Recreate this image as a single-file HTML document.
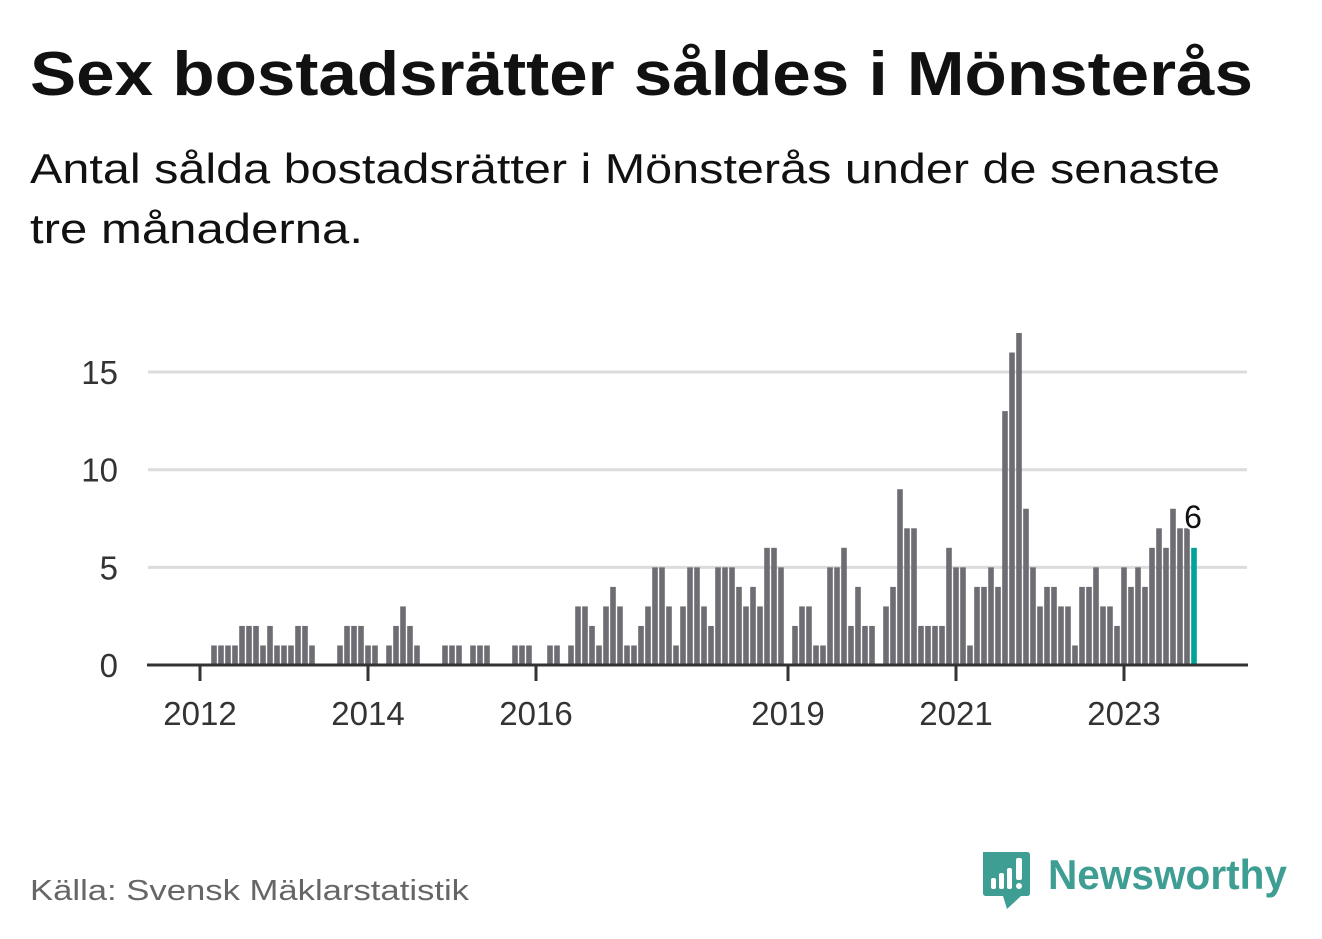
<!DOCTYPE html>
<html><head><meta charset="utf-8"><style>
html,body{margin:0;padding:0;background:#fff;}
svg{display:block;font-family:"Liberation Sans","DejaVu Sans",sans-serif;}
</style></head><body>
<svg id="chart" width="1322" height="939" viewBox="0 0 1322 939" xmlns="http://www.w3.org/2000/svg">
<text x="30" y="95" font-size="62" font-weight="bold" fill="#111" textLength="1223" lengthAdjust="spacingAndGlyphs">Sex bostadsrätter såldes i Mönsterås</text>
<text x="30" y="183" font-size="42" fill="#111" textLength="1190" lengthAdjust="spacingAndGlyphs">Antal sålda bostadsrätter i Mönsterås under de senaste</text>
<text x="30" y="243" font-size="42" fill="#111" textLength="333" lengthAdjust="spacingAndGlyphs">tre månaderna.</text>
<g id="grid"></g>
<g id="bars"></g>
<g id="axes"></g>
<text x="30" y="900" font-size="29" fill="#666" textLength="439" lengthAdjust="spacingAndGlyphs">Källa: Svensk Mäklarstatistik</text>
<g>
<path d="M983 852 H1027 Q1030 852 1030 855 V893 Q1030 896 1027 896 H1021 L1007 909 L1003 896 H986 Q983 896 983 893 Z" fill="#3f9e94"/>
<rect x="991" y="878" width="5" height="11" rx="2" fill="#fff"/>
<rect x="999" y="873" width="5" height="16" rx="2" fill="#fff"/>
<rect x="1007" y="868" width="5" height="21" rx="2" fill="#fff"/>
<rect x="1016" y="858" width="6" height="22" rx="2" fill="#fff"/>
<circle cx="1019" cy="886" r="3" fill="#fff"/>
<text x="1048" y="889" font-size="42" font-weight="bold" fill="#3f9e94" textLength="239" lengthAdjust="spacingAndGlyphs">Newsworthy</text>
</g>
</svg>
<script>
// monthly values starting Jan 2012 (index 0)
const values = [0,0,1,1,1,1,2,2,2,1,2,1,1,1,2,2,1,0,0,0,
1,2,2,2,1,1,0,1,2,3,2,1,0,0,0,1,1,1,0,1,
1,1,0,0,0,1,1,1,0,0,1,1,0,1,3,3,2,1,3,4,
3,1,1,2,3,5,5,3,1,3,5,5,3,2,5,5,5,4,3,4,
3,6,6,5,0,2,3,3,1,1,5,5,6,2,4,2,2,0,3,4,
9,7,7,2,2,2,2,6,5,5,1,4,4,5,4,13,16,17,8,5,
3,4,4,3,3,1,4,4,5,3,3,2,5,4,5,4,6,7,6,8,
7,7,6];
const yTicks = [0,5,10,15];
const xTickYears = ["2012","2014","2016","2019","2021","2023"];
const xTickIndex = [0,24,48,84,108,132];

const NS="http://www.w3.org/2000/svg";
const y = v => 665 - v*19.53;
const x = i => 200 + i*7;
const grid=document.getElementById('grid'), bars=document.getElementById('bars'), axes=document.getElementById('axes');
function mk(tag,attrs,parent){const e=document.createElementNS(NS,tag);for(const k in attrs)e.setAttribute(k,attrs[k]);parent.appendChild(e);return e;}
yTicks.forEach(t=>{
  if(t>0){const l=mk('line',{x1:148,x2:1247,y1:y(t),y2:y(t),stroke:'#dcdcdc','stroke-width':3},grid);
  
  }
  const tx=mk('text',{x:118,y:y(t)+12,'font-size':33,fill:'#333','text-anchor':'end'},axes);
  tx.textContent=t;
  
  
});
values.forEach((v,i)=>{
  if(v<=0)return;
  const last=i===values.length-1;
  const r=mk('rect',{x:x(i)-2.8,y:y(v),width:5.6,height:665-y(v),fill:last?'#00a398':'#6e6d73'},bars);
  
  
});
const bl=mk('line',{x1:147,x2:1248,y1:665,y2:665,stroke:'#333','stroke-width':3},axes);


xTickIndex.forEach((ix,k)=>{
  const tk=mk('line',{x1:x(ix),x2:x(ix),y1:666,y2:681,stroke:'#333','stroke-width':3},axes);
  
  
  const tl=mk('text',{x:x(ix),y:725,'font-size':33,fill:'#333','text-anchor':'middle'},axes);
  tl.textContent=xTickYears[k];
  
  
});
const li=values.length-1;
const lab=mk('text',{x:x(li)-1,y:y(values[li])-20,'font-size':32,fill:'#111','text-anchor':'middle',stroke:'#fff','stroke-width':4,'paint-order':'stroke'},axes);
lab.textContent=values[li];


</script>
</body></html>
